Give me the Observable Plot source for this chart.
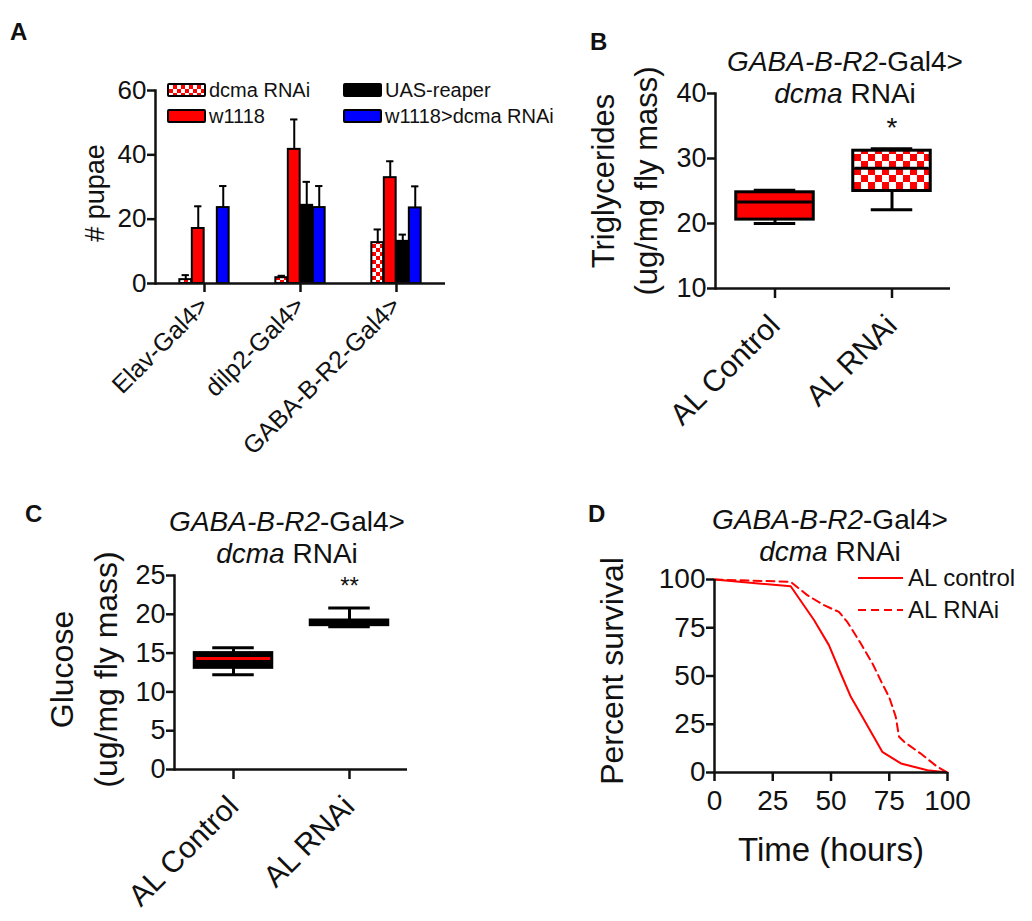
<!DOCTYPE html>
<html><head><meta charset="utf-8">
<script src="https://cdn.jsdelivr.net/npm/d3@7"></script>
<script src="https://cdn.jsdelivr.net/npm/@observablehq/plot@0.6"></script>
<style>
body{margin:0;background:#fff;}
#fig{position:relative;width:1032px;height:921px;overflow:hidden;font-family:'Liberation Sans',Arial,sans-serif;color:#111;background:#fff;}
.lbl{position:absolute;font-weight:bold;font-size:24px;line-height:24px;}
.title{position:absolute;width:320px;text-align:center;font-size:28px;line-height:32px;white-space:nowrap;}
.leg{position:absolute;display:flex;align-items:center;height:16px;font-size:20px;line-height:16px;white-space:nowrap;}
.sw{width:39px;height:14px;box-sizing:border-box;border:2.5px solid #000;border-radius:2px;margin-right:3px;}
.legD{position:absolute;display:flex;align-items:center;height:24px;font-size:24px;line-height:24px;white-space:nowrap;}
.legD svg{margin-right:5px;}
</style></head>
<body>
<svg width="0" height="0" style="position:absolute">
  <defs>
    <pattern id="checkA" width="8" height="8" patternUnits="userSpaceOnUse">
      <rect width="8" height="8" fill="#fff"/>
      <rect width="4" height="4" fill="#ff0000"/>
      <rect x="4" y="4" width="4" height="4" fill="#ff0000"/>
    </pattern>
    <pattern id="checkB" width="14" height="14" patternUnits="userSpaceOnUse">
      <rect width="14" height="14" fill="#fff"/>
      <rect width="7" height="7" fill="#ff0000"/>
      <rect x="7" y="7" width="7" height="7" fill="#ff0000"/>
    </pattern>
  </defs>
</svg>
<div id="fig"></div>
<script>
// ---------- Panel A data: # pupae ----------
const pupaeGroups = ["Elav-Gal4>", "dilp2-Gal4>", "GABA-B-R2-Gal4>"];
const pupaeSeries = ["dcma RNAi", "w1118", "UAS-reaper", "w1118>dcma RNAi"];
const pupaeDcmaRNAi = [1.2, 1.8, 12.7];
const pupaeDcmaRNAiErr = [1.4, 0.6, 4.1];
const pupaeW1118 = [17.1, 41.7, 32.9];
const pupaeW1118Err = [6.9, 9.3, 5.1];
const pupaeReaper = [0, 24.3, 13.1];
const pupaeReaperErr = [0, 7.3, 2.1];
const pupaeW1118Dcma = [23.6, 23.6, 23.5];
const pupaeW1118DcmaErr = [6.7, 6.7, 6.7];
const pupaeTicks = [0, 20, 40, 60];

// ---------- Panel B data: triglycerides ----------
const trigGroups = ["AL Control", "AL RNAi"];
const trigMin = [20.0, 22.1];
const trigQ1 = [20.6, 25.0];
const trigMedian = [23.3, 28.5];
const trigQ3 = [24.8, 31.2];
const trigMax = [25.1, 31.5];
const trigSig = ["", "*"];
const trigTicks = [10, 20, 30, 40];

// ---------- Panel C data: glucose ----------
const gluGroups = ["AL Control", "AL RNAi"];
const gluMin = [12.2, 18.4];
const gluQ1 = [13.1, 18.6];
const gluMedian = [14.3, 18.9];
const gluQ3 = [15.0, 19.2];
const gluMax = [15.7, 20.8];
const gluSig = ["", "**"];
const gluTicks = [0, 5, 10, 15, 20, 25];

// ---------- Panel D data: survival ----------
const survSeries = ["AL control", "AL RNAi"];
const hoursControl = [0, 20, 32.7, 42.7, 49.1, 54.2, 58.5, 63.5, 72, 80, 91.4, 100];
const survControl = [100, 97.8, 96.5, 79, 66, 51.3, 39.2, 28.8, 10.7, 4.7, 1.2, 0];
const hoursRNAi = [0, 32.7, 39.8, 47, 53.4, 57, 62.8, 67.8, 72, 75, 77.8, 79.2, 81.4, 88.5, 95.7, 100];
const survRNAi = [100, 98.8, 91.9, 86.7, 83.2, 78, 66.8, 56.5, 46, 39, 28.8, 18.5, 15.9, 9.8, 2.9, 0];
const survTicks = [0, 25, 50, 75, 100];

// ---------- styles ----------
const FONT = "'Liberation Sans', Arial, sans-serif";
const RED = "#ff0000", BLUE = "#0000ff", BLACK = "#000";
const pupaeFills = ["url(#checkA)", RED, BLACK, BLUE];
const trigFills = [RED, "url(#checkB)"];
const trigMedColors = [BLACK, BLACK];
const gluFills = [BLACK, BLACK];
const gluMedColors = [RED, BLACK];
const AX = 2.5;

const fig = document.getElementById("fig");
function place(el, left, top) {
  el.style.position = "absolute";
  el.style.left = left + "px";
  el.style.top = top + "px";
  fig.appendChild(el);
}
function html(str) {
  const d = document.createElement("div");
  d.innerHTML = str;
  return d.firstElementChild;
}
const baseStyle = {fontFamily: FONT, color: "#111", background: "transparent", overflow: "visible"};

// ================= Panel A =================
const A = {width: 560, height: 470, marginLeft: 155, marginRight: 115, marginTop: 90, marginBottom: 187};
const bwA = (A.width - A.marginLeft - A.marginRight) / pupaeGroups.length;
const groupW = 50, barW = groupW / pupaeSeries.length;
const pupaeValues = [pupaeDcmaRNAi, pupaeW1118, pupaeReaper, pupaeW1118Dcma];
const pupaeErrors = [pupaeDcmaRNAiErr, pupaeW1118Err, pupaeReaperErr, pupaeW1118DcmaErr];
const idxA = d3.range(pupaeGroups.length);
const barMarks = pupaeSeries.flatMap((s, k) => {
  const vals = pupaeValues[k], errs = pupaeErrors[k];
  const inL = (bwA - groupW) / 2 + k * barW, inR = bwA - inL - barW;
  const center = inL + barW / 2 - bwA / 2;
  const withErr = idxA.filter(i => errs[i] > 0);
  return [
    Plot.ruleX(withErr, {x: i => pupaeGroups[i], y1: i => vals[i], y2: i => vals[i] + errs[i], dx: center, stroke: BLACK, strokeWidth: 2}),
    Plot.tickY(withErr, {x: i => pupaeGroups[i], y: i => vals[i] + errs[i], insetLeft: inL + barW / 2 - 4, insetRight: inR + barW / 2 - 4, stroke: BLACK, strokeWidth: 2}),
    Plot.barY(idxA, {x: i => pupaeGroups[i], y1: 0, y2: i => vals[i], fill: pupaeFills[k], stroke: BLACK, strokeWidth: 2, insetLeft: inL, insetRight: inR})
  ];
});
const plotA = Plot.plot({
  ...A,
  style: {...baseStyle, fontSize: "26px"},
  x: {domain: pupaeGroups, padding: 0, axis: null},
  y: {domain: [0, 60], axis: null},
  marks: [
    ...barMarks,
    Plot.axisY(pupaeTicks, {tickSize: 8, tickPadding: 1, fontSize: 26, strokeWidth: AX, label: null}),
    Plot.axisX({tickSize: 9, tickPadding: 9, tickRotate: -45, fontSize: 25, strokeWidth: AX, label: null}),
    Plot.ruleY([0], {strokeWidth: AX}),
    Plot.frame({anchor: "left", strokeWidth: AX}),
    Plot.text(["# pupae"], {text: d => d, frameAnchor: "left", textAnchor: "middle", lineAnchor: "middle", rotate: -90, dx: -60, dy: 6, fontSize: 27})
  ]
});
place(plotA, 0, 0);

// ================= Box panels =================
function boxPanel(dims, groups, mins, q1s, meds, q3s, maxs, sig, sigOffset, sigSize, fills, medColors, ticks, yDomain, ylabel, lblDx, lblDy, lblSize) {
  const bw = (dims.width - dims.marginLeft - dims.marginRight) / groups.length;
  const boxIn = (bw - 78) / 2, capIn = (bw - 42) / 2;
  const idx = d3.range(groups.length);
  const g = i => groups[i];
  return Plot.plot({
    ...dims,
    style: {...baseStyle, fontSize: "27px"},
    x: {domain: groups, padding: 0, axis: null},
    y: {domain: yDomain, axis: null},
    marks: [
      Plot.ruleX(idx, {x: g, y1: i => mins[i], y2: i => maxs[i], stroke: BLACK, strokeWidth: 3}),
      Plot.tickY(idx, {x: g, y: i => mins[i], insetLeft: capIn, insetRight: capIn, stroke: BLACK, strokeWidth: 3}),
      Plot.tickY(idx, {x: g, y: i => maxs[i], insetLeft: capIn, insetRight: capIn, stroke: BLACK, strokeWidth: 3}),
      Plot.barY(idx, {x: g, y1: i => q1s[i], y2: i => q3s[i], fill: i => fills[i], stroke: BLACK, strokeWidth: 3, insetLeft: boxIn, insetRight: boxIn}),
      Plot.tickY(idx, {x: g, y: i => meds[i], stroke: i => medColors[i], strokeWidth: 3, insetLeft: boxIn + 1.5, insetRight: boxIn + 1.5}),
      Plot.text(idx, {x: g, y: i => maxs[i] + sigOffset, text: i => sig[i], fontSize: sigSize}),
      Plot.axisY(ticks, {tickSize: 8, tickPadding: 1, fontSize: 27, strokeWidth: AX, label: null}),
      Plot.axisX({tickSize: 10, tickPadding: 22, tickRotate: -45, fontSize: 30, strokeWidth: AX, label: null}),
      Plot.ruleY([yDomain[0]], {strokeWidth: AX}),
      Plot.frame({anchor: "left", strokeWidth: AX}),
      Plot.text([ylabel], {text: d => d, frameAnchor: "left", textAnchor: "middle", lineAnchor: "middle", rotate: -90, dx: lblDx, dy: lblDy, fontSize: lblSize, lineHeight: 1.38})
    ]
  });
}
const B = {width: 472, height: 470, marginLeft: 155, marginRight: 82, marginTop: 93, marginBottom: 182};
const plotB = boxPanel(B, trigGroups, trigMin, trigQ1, trigMedian, trigQ3, trigMax, trigSig, 3.2, 28,
  trigFills, trigMedColors, trigTicks, [10, 40], "Triglycerides\n(ug/mg fly mass)", -94, -10, 31);
place(plotB, 560, 0);

const C = {width: 560, height: 451, marginLeft: 174, marginRight: 153, marginTop: 105, marginBottom: 152};
const plotC = boxPanel(C, gluGroups, gluMin, gluQ1, gluMedian, gluQ3, gluMax, gluSig, 2.8, 24,
  gluFills, gluMedColors, gluTicks, [0, 25], "Glucose\n(ug/mg fly mass)", -94, -3, 32);
place(plotC, 0, 470);

// ================= Panel D =================
const D = {width: 472, height: 451, marginLeft: 154, marginRight: 85, marginTop: 109, marginBottom: 149};
const idxSC = d3.range(hoursControl.length), idxSR = d3.range(hoursRNAi.length);
const plotD = Plot.plot({
  ...D,
  style: {...baseStyle, fontSize: "28px"},
  x: {domain: [0, 100], axis: null},
  y: {domain: [0, 100], axis: null},
  marks: [
    Plot.line(idxSC, {x: i => hoursControl[i], y: i => survControl[i], stroke: RED, strokeWidth: 2}),
    Plot.line(idxSR, {x: i => hoursRNAi[i], y: i => survRNAi[i], stroke: RED, strokeWidth: 2, strokeDasharray: "8,5"}),
    Plot.axisY(survTicks, {tickSize: 8, tickPadding: 1, fontSize: 28, strokeWidth: AX, label: null}),
    Plot.axisX(survTicks, {tickSize: 9, tickPadding: 9, fontSize: 28, strokeWidth: AX, label: null}),
    Plot.ruleY([0], {strokeWidth: AX}),
    Plot.ruleX([0], {strokeWidth: AX}),
    Plot.text(["Percent survival"], {text: d => d, frameAnchor: "left", textAnchor: "middle", lineAnchor: "middle", rotate: -90, dx: -102, dy: -5, fontSize: 32}),
    Plot.text(["Time (hours)"], {text: d => d, frameAnchor: "bottom", textAnchor: "middle", lineAnchor: "middle", dy: 78, fontSize: 33})
  ]
});
place(plotD, 560, 470);

// ================= HTML text: letters, titles, legends =================
place(html('<div class="lbl">A</div>'), 10, 20);
place(html('<div class="lbl">B</div>'), 590, 30);
place(html('<div class="lbl">C</div>'), 25, 502);
place(html('<div class="lbl">D</div>'), 588, 502);

const titleHtml = '<div class="title"><i>GABA-B-R2</i>-Gal4&gt;<br><i>dcma</i> RNAi</div>';
place(html(titleHtml), 845 - 160, 46);
place(html(titleHtml), 287 - 160, 506);
place(html(titleHtml), 830 - 160, 504);

// Panel A legend
const swStyle = f => f === "url(#checkA)"
  ? "background:repeating-conic-gradient(#ff0000 0 25%, #fff 0 50%) 0 0/8px 8px;"
  : `background:${f};`;
const legPos = [[167, 82], [167, 108], [343, 82], [343, 108]];
pupaeSeries.forEach((s, k) => {
  const el = html(`<div class="leg"><div class="sw" style="${swStyle(pupaeFills[k])}"></div><span></span></div>`);
  el.querySelector("span").textContent = s;
  place(el, legPos[k][0], legPos[k][1]);
});

// Panel D legend
const dashes = ["none", "8,5"];
survSeries.forEach((s, k) => {
  const el = html(`<div class="legD"><svg width="45" height="4"><line x1="0" y1="2" x2="45" y2="2" stroke="${RED}" stroke-width="2" stroke-dasharray="${dashes[k]}"/></svg><span></span></div>`);
  el.querySelector("span").textContent = s;
  place(el, 858, [566, 598][k]);
});
</script>
</body></html>
